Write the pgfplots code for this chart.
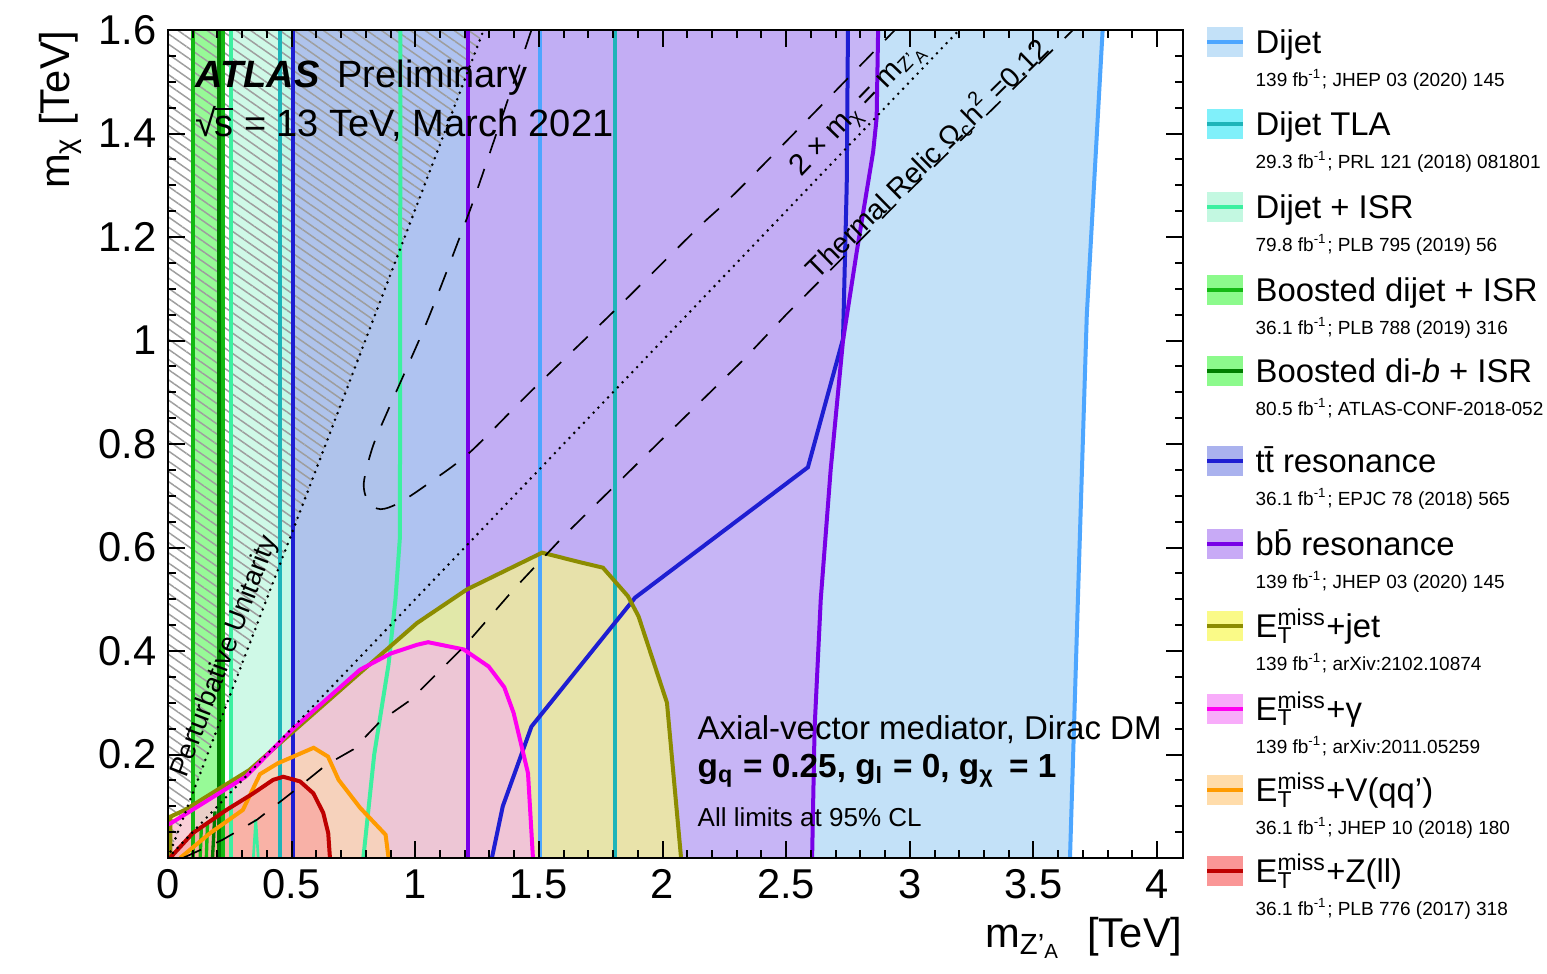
\documentclass[border=0pt]{standalone}
\usepackage{fontspec}
\setmainfont{Liberation Sans}
\usepackage{pgfplots}
\pgfplotsset{compat=1.18}
\usetikzlibrary{patterns.meta}
\newcommand\fs[1]{\fontsize{#1}{#1}\selectfont}
\newcommand\met{E\rlap{\textsubscript{T}}\textsuperscript{miss}}
\definecolor{dijetL}{RGB}{77,166,255}   \definecolor{dijetF}{RGB}{195,225,248}
\definecolor{tlaL}{RGB}{30,180,185}     \definecolor{tlaF}{RGB}{128,240,250}
\definecolor{isrL}{RGB}{60,240,160}     \definecolor{isrF}{RGB}{195,248,225}
\definecolor{bjL}{RGB}{20,185,20}       \definecolor{bjF}{RGB}{140,250,140}
\definecolor{bbbL}{RGB}{0,125,0}
\definecolor{ttL}{RGB}{30,30,210}       \definecolor{ttF}{RGB}{170,178,238}
\definecolor{bbL}{RGB}{120,0,230}       \definecolor{bbF}{RGB}{200,170,246}
\definecolor{jetL}{RGB}{140,140,0}      \definecolor{jetF}{RGB}{250,250,135}
\definecolor{gamL}{RGB}{255,0,240}      \definecolor{gamF}{RGB}{248,172,250}
\definecolor{vL}{RGB}{255,155,0}        \definecolor{vF}{RGB}{255,220,170}
\definecolor{zL}{RGB}{190,0,0}          \definecolor{zF}{RGB}{250,150,150}
\newcommand\legent[5]{%
 \begin{scope}[yshift=#1]
  \fill[#2] (311.7pt,-4.5pt) rectangle (322.5pt,4.5pt);
  \draw[#3, line width=1.1pt] (311.7pt,0pt) -- (322.5pt,0pt);
  \node[anchor=base west, inner sep=0pt, font=\fs{9.85}] at (326.1pt,-3.6pt) {#4};
  \node[anchor=base west, inner sep=0pt, font=\fs{5.7}] at (326.1pt,-13.4pt) {#5};
 \end{scope}}
\begin{document}
\begin{tikzpicture}
\begin{axis}[
  name=ax, at={(0pt,0pt)}, anchor=south west,
  width=304.5pt, height=248.4pt, scale only axis,
  xmin=0, xmax=4.105, ymin=0, ymax=1.6,
  xtick={0,0.5,1,1.5,2,2.5,3,3.5,4},
  xticklabels={0,0.5,1,1.5,2,2.5,3,3.5,4},
  ytick={0,0.2,0.4,0.6,0.8,1,1.2,1.4,1.6},
  yticklabels={,0.2,0.4,0.6,0.8,1,1.2,1.4,1.6},
  minor x tick num=4, minor y tick num=3,
  tick align=inside, major tick length=5pt, minor tick length=2.5pt,
  axis line style={line width=0.8pt},
  every tick/.style={black, line width=0.6pt},
  ticklabel style={font=\fs{12.5}},
  /pgf/number format/assume math mode=true,
  axis on top,
]
% ---- fills
\addplot[draw=none, fill=dijetF] coordinates {(1.505,0)(1.505,1.6)(3.78,1.6)(3.716,1.05)(3.68,0.5)(3.648,0)} -- cycle;
\addplot[draw=none, fill=tlaF, fill opacity=0.5] coordinates {(0.453,0)(0.453,1.6)(1.808,1.6)(1.808,0)} -- cycle;
\addplot[draw=none, fill=isrF, fill opacity=0.8] coordinates {(0.253,0)(0.253,1.6)(0.94,1.6)(0.938,0.62)(0.92,0.5)(0.892,0.374)(0.834,0.2)(0.79,0)} -- cycle;
\addplot[draw=none, fill=isrF, fill opacity=0.8] coordinates {(0.345,0)(0.355,0.075)(0.365,0)} -- cycle;
\addplot[draw=none, fill=bjF, fill opacity=0.9] coordinates {(0.101,0)(0.101,1.6)(0.222,1.6)(0.222,0)} -- cycle;
\addplot[draw=none, fill=ttF, fill opacity=0.75] coordinates {(0.506,0)(0.506,1.6)(2.75,1.6)(2.745,1.3)(2.73,1.003)(2.588,0.755)(1.889,0.503)(1.47,0.254)(1.354,0.1)(1.31,0)} -- cycle;
\addplot[draw=none, fill=bbF, fill opacity=0.8] coordinates {(1.213,0)(1.213,1.6)(2.872,1.6)(2.866,1.43)(2.852,1.365)(2.785,1.17)(2.73,1.0)(2.68,0.75)(2.64,0.5)(2.615,0.25)(2.605,0)} -- cycle;
\addplot[draw=none, fill=jetF, fill opacity=0.68] coordinates {(0.01,0)(0.01,0.08)(0.069,0.093)(0.329,0.17)(0.777,0.358)(1.007,0.454)(1.209,0.519)(1.513,0.59)(1.671,0.571)(1.759,0.561)(1.86,0.506)(1.903,0.467)(2.018,0.30)(2.075,0)} -- cycle;
\addplot[draw=none, fill=gamF, fill opacity=0.55] coordinates {(0,0)(0,0.065)(0.011,0.067)(0.314,0.157)(0.502,0.248)(0.777,0.364)(0.9,0.395)(1.007,0.412)(1.052,0.417)(1.196,0.403)(1.297,0.37)(1.36,0.33)(1.398,0.28)(1.456,0.164)(1.476,0)} -- cycle;
\addplot[draw=none, fill=vF, fill opacity=0.55] coordinates {(0.049,0)(0.17,0.048)(0.303,0.093)(0.372,0.162)(0.444,0.183)(0.589,0.213)(0.647,0.196)(0.69,0.151)(0.777,0.097)(0.88,0.045)(0.892,0)} -- cycle;
\addplot[draw=none, fill=zF, fill opacity=0.55] coordinates {(0.008,0)(0.1,0.048)(0.237,0.093)(0.345,0.125)(0.425,0.151)(0.466,0.157)(0.534,0.148)(0.588,0.125)(0.628,0.087)(0.648,0.048)(0.655,0)} -- cycle;
% ---- hatch (perturbative unitarity)
\addplot[draw=none, pattern={Lines[angle=-35,distance=2.5pt,line width=0.45pt]}, pattern color=black!38] coordinates {(0,0)(1.2766,1.6)(0,1.6)} -- cycle;
% ---- boundary lines
\addplot[dijetL, line width=1.2pt] coordinates {(1.505,0)(1.505,1.6)};
\addplot[dijetL, line width=1.2pt] coordinates {(3.648,0)(3.68,0.5)(3.716,1.05)(3.78,1.6)};
\addplot[tlaL, line width=1.2pt] coordinates {(0.453,0)(0.453,1.6)};
\addplot[tlaL, line width=1.2pt] coordinates {(1.808,0)(1.808,1.6)};
\addplot[isrL, line width=1.2pt] coordinates {(0.253,0)(0.253,1.6)};
\addplot[isrL, line width=1.2pt] coordinates {(0.94,1.6)(0.938,0.62)(0.92,0.5)(0.892,0.374)(0.834,0.2)(0.79,0)};
\addplot[isrL, line width=0.8pt] coordinates {(0.345,0)(0.355,0.075)(0.365,0)};
\addplot[bjL, line width=1.2pt] coordinates {(0.101,0)(0.101,1.6)};
\addplot[bjL, line width=1.2pt] coordinates {(0.222,0)(0.222,1.6)};
\addplot[bjL, line width=1pt] coordinates {(0.13,0)(0.135,0.06)};
\addplot[bjL, line width=1pt] coordinates {(0.155,0)(0.16,0.07)};
\addplot[bbbL, line width=1.2pt] coordinates {(0.205,0)(0.205,1.6)};
\addplot[bbbL, line width=1pt] coordinates {(0.18,0)(0.19,0.09)};
\addplot[ttL, line width=1.2pt] coordinates {(0.506,0)(0.506,1.6)};
\addplot[ttL, line width=1.2pt] coordinates {(1.31,0)(1.354,0.1)(1.47,0.254)(1.889,0.503)(2.588,0.755)(2.73,1.003)(2.745,1.3)(2.75,1.6)};
\addplot[bbL, line width=1.2pt] coordinates {(1.213,0)(1.213,1.6)};
\addplot[bbL, line width=1.2pt] coordinates {(2.605,0)(2.615,0.25)(2.64,0.5)(2.68,0.75)(2.73,1.0)(2.785,1.17)(2.852,1.365)(2.866,1.43)(2.872,1.6)};
\addplot[jetL, line width=1.2pt] coordinates {(0.01,0)(0.01,0.08)(0.069,0.093)(0.329,0.17)(0.777,0.358)(1.007,0.454)(1.209,0.519)(1.513,0.59)(1.671,0.571)(1.759,0.561)(1.86,0.506)(1.903,0.467)(2.018,0.30)(2.075,0)};
\addplot[gamL, line width=1.2pt] coordinates {(0,0.065)(0.011,0.067)(0.314,0.157)(0.502,0.248)(0.777,0.364)(0.9,0.395)(1.007,0.412)(1.052,0.417)(1.196,0.403)(1.297,0.37)(1.36,0.33)(1.398,0.28)(1.456,0.164)(1.476,0)};
\addplot[vL, line width=1.2pt] coordinates {(0.049,0)(0.17,0.048)(0.303,0.093)(0.372,0.162)(0.444,0.183)(0.589,0.213)(0.647,0.196)(0.69,0.151)(0.777,0.097)(0.88,0.045)(0.892,0)};
\addplot[zL, line width=1.2pt] coordinates {(0.008,0)(0.1,0.048)(0.237,0.093)(0.345,0.125)(0.425,0.151)(0.466,0.157)(0.534,0.148)(0.588,0.125)(0.628,0.087)(0.648,0.048)(0.655,0)};
% ---- theory lines
\addplot[black, line width=0.5pt, dash pattern=on 6pt off 5pt] coordinates {(0.06,0)(0.22,0.035)(0.36,0.074)(0.5,0.126)(0.64,0.18)(0.75,0.21)(0.86,0.265)(0.98,0.305)(1.2,0.41)(1.4,0.52)(1.6,0.622)(2.0,0.81)(2.33,0.964)(2.5,1.05)(3.0,1.29)(3.66,1.6)};
\addplot[black, line width=0.5pt, dash pattern=on 6pt off 5pt, smooth] coordinates {(1.47,1.6)(1.262,1.307)(1.193,1.216)(1.047,1.036)(0.897,0.873)(0.829,0.796)(0.792,0.725)(0.81,0.688)(0.86,0.674)(0.938,0.687)(1.06,0.726)(1.221,0.784)(1.464,0.9)(1.8,1.055)(2.14,1.216)(2.326,1.30)(2.94,1.6)};
\addplot[black, line width=0.85pt, line cap=round, dash pattern=on 0pt off 2.1pt] coordinates {(0,0)(3.2,1.6)};
\addplot[black, line width=0.85pt, line cap=round, dash pattern=on 0pt off 2.1pt] coordinates {(0,0)(1.2766,1.6)};
% ---- rotated labels
\node[anchor=south, rotate=69.1, inner sep=1.5pt, font=\fs{8.2}] at (axis cs:0.301,0.377) {Perturbative Unitarity};
\node[anchor=south, rotate=46.2, inner sep=1pt, font=\fs{9}] at (axis cs:2.847,1.423) {2 × m\textsubscript{χ} = m\textsubscript{Z'\textsubscript{A}}};
\node[anchor=base, rotate=44.5, inner sep=0pt, font=\fs{8.6}] at (axis cs:3.10,1.338) {Thermal Relic Ω\textsubscript{c}h\textsuperscript{2} =0.12};
\end{axis}
% ---- axis titles
\node[anchor=base east, inner sep=0pt, font=\fs{12.5}] at (304.5pt,-27pt) {m\textsubscript{Z'\textsubscript{A}}\hspace{0.35em} [TeV]};
\node[anchor=base east, rotate=90, inner sep=0pt, font=\fs{12.5}] at (-29.4pt,248.4pt) {m\textsubscript{χ} [TeV]};
% ---- ATLAS texts
\node[anchor=base west, inner sep=0pt, font=\fs{11.4}] at (8.1pt,231pt) {\textbf{\textit{ATLAS}}\hspace{5.4pt}Preliminary};
\node[anchor=base west, inner sep=0pt, font=\fs{11.4}] at (8.1pt,216.3pt) {√\kern-0.6pt\rlap{\rule[8.1pt]{5.6pt}{0.5pt}}s = 13 TeV, March 2021};
\node[anchor=base west, inner sep=0pt, font=\fs{9.9}] at (158.7pt,35.4pt) {Axial-vector mediator, Dirac DM};
\node[anchor=base west, inner sep=0pt, font=\fs{10}] at (158.7pt,24pt) {\textbf{g\textsubscript{q} = 0.25, g\textsubscript{l} = 0, g\textsubscript{χ}\, = 1}};
\node[anchor=base west, inner sep=0pt, font=\fs{7.8}] at (158.7pt,9.3pt) {All limits at 95\% CL};
% ---- legend
\legent{244.8pt}{dijetF}{dijetL}{Dijet}{139 fb\textsuperscript{-1}; JHEP 03 (2020) 145}
\legent{220.2pt}{tlaF}{tlaL}{Dijet TLA}{29.3 fb\textsuperscript{-1}; PRL 121 (2018) 081801}
\legent{195.3pt}{isrF}{isrL}{Dijet + ISR}{79.8 fb\textsuperscript{-1}; PLB 795 (2019) 56}
\legent{170.4pt}{bjF}{bjL}{Boosted dijet + ISR}{36.1 fb\textsuperscript{-1}; PLB 788 (2019) 316}
\legent{146.1pt}{bjF}{bbbL}{Boosted di-\textit{b} + ISR}{80.5 fb\textsuperscript{-1}; ATLAS-CONF-2018-052}
\legent{119.1pt}{ttF}{ttL}{t\={t} resonance}{36.1 fb\textsuperscript{-1}; EPJC 78 (2018) 565}
\legent{94.2pt}{bbF}{bbL}{b\={b} resonance}{139 fb\textsuperscript{-1}; JHEP 03 (2020) 145}
\legent{69.6pt}{jetF}{jetL}{\met+jet}{139 fb\textsuperscript{-1}; arXiv:2102.10874}
\legent{44.7pt}{gamF}{gamL}{\met+γ}{139 fb\textsuperscript{-1}; arXiv:2011.05259}
\legent{20.4pt}{vF}{vL}{\met+V(qq')}{36.1 fb\textsuperscript{-1}; JHEP 10 (2018) 180}
\legent{-3.9pt}{zF}{zL}{\met+Z(ll)}{36.1 fb\textsuperscript{-1}; PLB 776 (2017) 318}
\pgfresetboundingbox
\path (-50.4pt,-34.8pt) rectangle (413.7pt,257.4pt);
\end{tikzpicture}
\end{document}
